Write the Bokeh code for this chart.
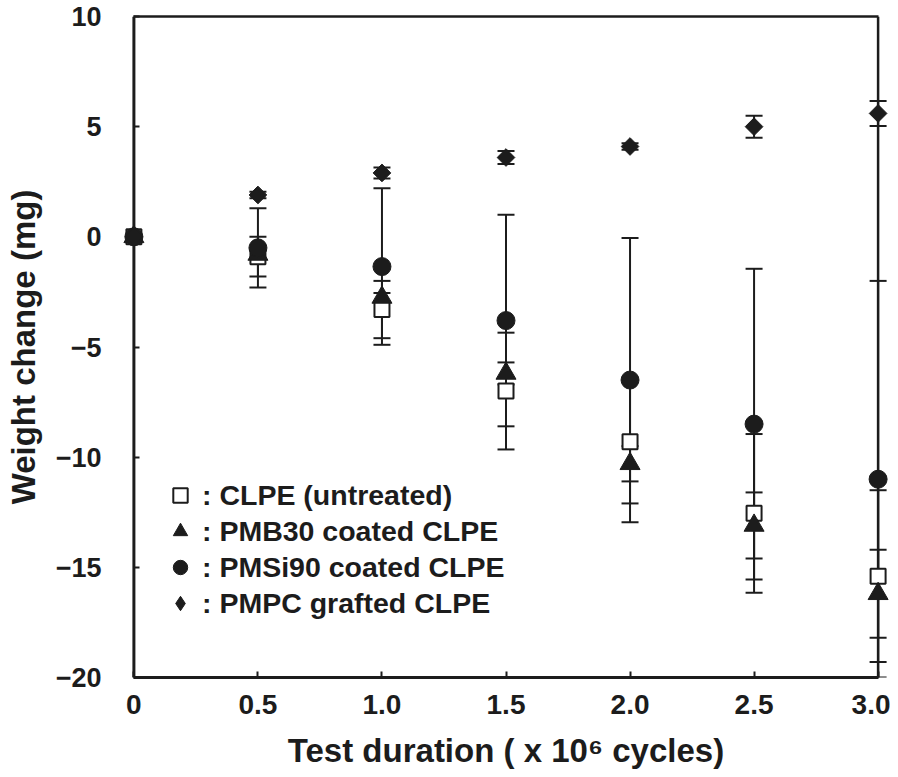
from bokeh.plotting import figure
from bokeh.models import (ColumnDataSource, Whisker, TeeHead, Range1d, FixedTicker,
                          LinearAxis, Span, Legend, LegendItem)
from bokeh.embed import file_html
from bokeh.resources import INLINE

# ---- data ----
duration = [0, 0.5, 1.0, 1.5, 2.0, 2.5, 3.0]          # x 10^6 cycles

clpe = [0, -0.9, -3.3, -7.0, -9.3, -12.55, -15.4]
clpe_err = [0, 0.9, 1.3, 2.65, 2.8, 3.6, 3.9]

pmb30 = [0, -0.8, -2.75, -6.2, -10.3, -13.1, -16.2]
pmb30_err = [0, 0.2, 0.2, 0.5, 0.8, 1.5, 2.0]

pmsi90 = [0, -0.5, -1.35, -3.8, -6.5, -8.5, -11.0]
pmsi90_err = [0, 1.8, 3.55, 4.8, 6.45, 7.05, 9.0]

pmpc = [0, 1.9, 2.9, 3.6, 4.1, 5.0, 5.6]
pmpc_err = [0, 0.15, 0.25, 0.3, 0.15, 0.5, 0.57]

series_labels = [": CLPE (untreated)", ": PMB30 coated CLPE",
                 ": PMSi90 coated CLPE", ": PMPC grafted CLPE"]

x_ticks = [0, 0.5, 1.0, 1.5, 2.0, 2.5, 3.0]
x_tick_labels = ["0", "0.5", "1.0", "1.5", "2.0", "2.5", "3.0"]
y_ticks = [-20, -15, -10, -5, 0, 5, 10]
y_tick_labels = ["\u221220", "\u221215", "\u221210", "\u22125", "0", "5", "10"]

INK = "#1c1c1c"
FONT = "Liberation Sans"

p = figure(frame_width=769, frame_height=661,
           x_range=Range1d(-0.05, 3.05), y_range=Range1d(-20, 10),
           output_backend="svg", toolbar_location=None,
           min_border_left=121, min_border_right=0, min_border_top=16,
           min_border_bottom=96, outline_line_color=None,
           background_fill_color="white", border_fill_color="white")
p.grid.visible = False

# axes
xa = p.xaxis[0]
xa.bounds = (0, 3)
xa.ticker = FixedTicker(ticks=x_ticks)
xa.major_label_overrides = {t: s for t, s in zip(x_ticks, x_tick_labels)}
xa.axis_line_width = 3
xa.major_tick_in = 6
xa.major_tick_out = 0
xa.major_label_standoff = 17
xa.axis_label_standoff = 15

ya = p.yaxis[0]
ya.ticker = FixedTicker(ticks=y_ticks)
ya.major_label_overrides = {t: s for t, s in zip(y_ticks, y_tick_labels)}
ya.axis_line_color = None        # spine drawn at x = 0 below
ya.major_tick_out = -12          # ticks start at the x = 0 spine
ya.major_tick_in = 18
ya.major_label_standoff = 20
ya.axis_label_standoff = 11

for ax in (xa, ya):
    ax.major_tick_line_width = 2
    ax.major_tick_line_color = INK
    ax.minor_tick_line_color = None
    ax.major_label_text_font = FONT
    ax.major_label_text_font_style = "bold"
    ax.major_label_text_color = INK
    ax.axis_label_text_font = FONT
    ax.axis_label_text_font_style = "bold"
    ax.axis_label_text_font_size = "33px"
    ax.axis_label_text_color = INK
xa.major_label_text_font_size = "28px"
ya.major_label_text_font_size = "27px"
xa.axis_line_color = INK

xa.axis_label = "Test duration ( x 10\u2076 cycles)"
ya.axis_label = "Weight change (mg)"

top_axis = LinearAxis(bounds=(0, 3), ticker=FixedTicker(ticks=[]),
                      axis_line_width=2.5, axis_line_color=INK,
                      major_tick_line_color=None, minor_tick_line_color=None,
                      major_label_standoff=0, axis_label_standoff=0)
p.add_layout(top_axis, "above")
p.add_layout(Span(location=0, dimension="height", line_width=3,
                  line_color=INK, level="underlay"))
p.add_layout(Span(location=3.0, dimension="height", line_width=2.5,
                  line_color=INK, level="underlay"))

# error bars
def bars(ys, errs):
    xs = [x for x, e in zip(duration, errs) if e > 0]
    up = [y + e for y, e in zip(ys, errs) if e > 0]
    lo = [y - e for y, e in zip(ys, errs) if e > 0]
    src = ColumnDataSource(dict(x=xs, upper=up, lower=lo))
    w = Whisker(source=src, base="x", upper="upper", lower="lower",
                line_width=2, line_color=INK, level="underlay",
                upper_head=TeeHead(size=17, line_width=2, line_color=INK),
                lower_head=TeeHead(size=17, line_width=2, line_color=INK))
    p.add_layout(w)

for ys, es in ((clpe, clpe_err), (pmb30, pmb30_err),
               (pmsi90, pmsi90_err), (pmpc, pmpc_err)):
    bars(ys, es)

r_sq = p.scatter(duration, clpe, marker="square", size=15, fill_color="white",
                 line_color=INK, line_width=2)
r_tr = p.scatter(duration, pmb30, marker="triangle", size=20, fill_color=INK,
                 line_color=INK, line_width=1)
r_ci = p.scatter(duration, pmsi90, marker="circle", size=18, fill_color=INK,
                 line_color=INK, line_width=1)
r_di = p.scatter(duration, pmpc, marker="square", angle=0.785398, size=12.5,
                 fill_color=INK, line_color=INK, line_width=1)
# legend-only glyph (diamond shape), holds a single non-drawn point
r_di_leg = p.scatter([float("nan")], [float("nan")], marker="diamond", size=18,
                     fill_color=INK, line_color=INK, line_width=1)

legend = Legend(items=[LegendItem(label=series_labels[0], renderers=[r_sq]),
                       LegendItem(label=series_labels[1], renderers=[r_tr]),
                       LegendItem(label=series_labels[2], renderers=[r_ci]),
                       LegendItem(label=series_labels[3], renderers=[r_di_leg])],
                location=(41, 56), orientation="vertical",
                glyph_width=36, glyph_height=36, label_standoff=4,
                padding=0, spacing=0, margin=0,
                border_line_color=None, background_fill_alpha=0,
                label_text_font=FONT, label_text_font_style="bold",
                label_text_font_size="28.5px", label_text_color=INK)
p.add_layout(legend)

open("out.html", "w").write(file_html(p, INLINE))
